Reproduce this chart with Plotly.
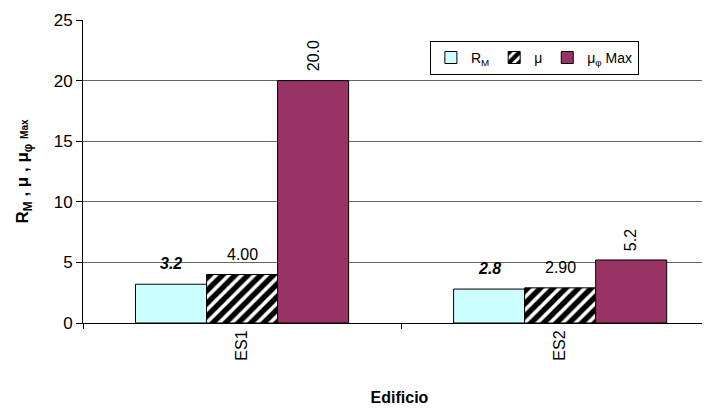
import plotly.graph_objects as go

categories = ["ES1", "ES2"]
rm_values = [3.2, 2.8]
mu_values = [4.00, 2.90]
muphi_values = [20.0, 5.2]
y_ticks = [0, 5, 10, 15, 20, 25]

FONT = "Liberation Sans, Arial, sans-serif"
BARGAP = 0.33
NSER = 3
bar_w = (1 - BARGAP) / NSER

fig = go.Figure()
fig.add_trace(go.Bar(
    x=categories, y=rm_values, name="R<sub>M</sub>",
    marker=dict(color="#CCFFFF", line=dict(color="black", width=1)),
))
fig.add_trace(go.Bar(
    x=categories, y=mu_values, name="μ",
    marker=dict(color="white", line=dict(color="black", width=1),
                pattern=dict(shape="/", fgcolor="black", bgcolor="white", size=9,
                             solidity=0.6, fgopacity=1)),
))
fig.add_trace(go.Bar(
    x=categories, y=muphi_values, name="μ<sub>φ</sub> Max",
    marker=dict(color="#993366", line=dict(color="black", width=1)),
))

# value labels
series_labels = [
    ([f"<b><i>{v:.1f}</i></b>" for v in rm_values], rm_values, 0),
    ([f"{v:.2f}" for v in mu_values], mu_values, 0),
    ([f"{v:.1f}" for v in muphi_values], muphi_values, -90),
]
for k, (texts, vals, ang) in enumerate(series_labels):
    for i, (t, v) in enumerate(zip(texts, vals)):
        fig.add_annotation(
            x=i + (k - 1) * bar_w, y=v, xref="x", yref="y",
            text=t, showarrow=False, textangle=ang,
            xanchor="center", yanchor="bottom",
            yshift=10 if ang == 0 else 7,
            font=dict(size=16, color="black", family=FONT),
        )

fig.update_layout(
    width=710, height=412,
    margin=dict(l=75, r=2, t=12, b=97),
    paper_bgcolor="white", plot_bgcolor="white",
    font=dict(family=FONT, color="black", size=15),
    barmode="group", bargap=BARGAP, bargroupgap=0,
    showlegend=True,
    legend=dict(
        orientation="h", x=0.548, y=0.931, xanchor="left", yanchor="top",
        bordercolor="black", borderwidth=1, bgcolor="white",
        font=dict(size=14, family=FONT), itemwidth=30,
        tracegroupgap=0,
    ),
    xaxis=dict(
        range=[-0.5, 1.49], tickangle=-90, tickson="boundaries",
        ticks="outside", ticklen=5, tickcolor="black",
        showline=True, linecolor="black", linewidth=1,
        tickfont=dict(size=16), automargin=False,
        title=dict(text="<b>Edificio</b>", font=dict(size=16), standoff=32),
    ),
    yaxis=dict(
        range=[0, 25], tickvals=y_ticks, ticks="outside", ticklen=6, tickcolor="black",
        showline=True, linecolor="black", linewidth=1,
        showgrid=True, gridcolor="#666666", gridwidth=1,
        tickfont=dict(size=17), automargin=False,
        title=dict(
            text="<b>R<sub>M</sub> , μ , μ<sub>φ</sub> <span style='font-size:10px'>Max</span></b>",
            font=dict(size=17), standoff=20),
        zeroline=False,
    ),
)

fig.write_html("out.html")
